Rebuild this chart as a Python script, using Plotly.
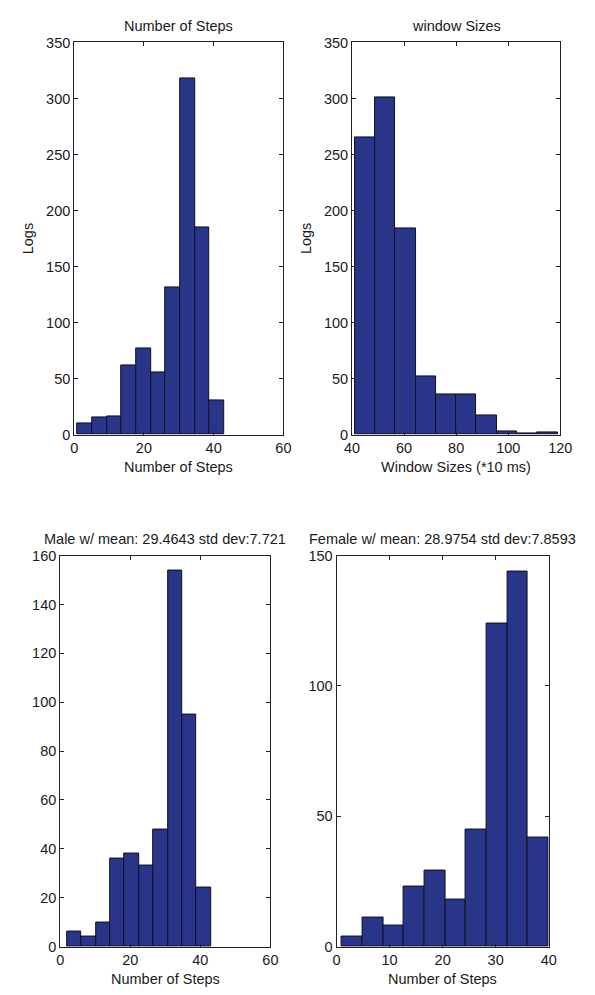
import plotly.graph_objects as go

# ---- data ----
steps_centers = [3.1, 7.3, 11.5, 15.7, 19.9, 24.1, 28.3, 32.5, 36.7, 40.9]
steps_counts = [10, 15, 16, 62, 77, 55, 131, 318, 185, 30]
steps_width = 4.2

win_centers = [44.9, 52.7, 60.5, 68.3, 76.1, 83.9, 91.7, 99.5, 107.3, 115.1]
win_counts = [265, 301, 184, 52, 36, 36, 17, 3, 1, 2]
win_width = 7.8

male_centers = [4.05, 8.15, 12.25, 16.35, 20.45, 24.55, 28.65, 32.75, 36.85, 40.95]
male_counts = [6, 4, 10, 36, 38, 33, 48, 154, 95, 24]
male_width = 4.1

female_centers = [2.95, 6.85, 10.75, 14.65, 18.55, 22.45, 26.35, 30.25, 34.15, 38.05]
female_counts = [4, 11, 8, 23, 29, 18, 45, 124, 144, 42]
female_width = 3.9

titles = ["Number of Steps", "window Sizes",
          "Male w/ mean: 29.4643 std dev:7.721",
          "Female w/ mean: 28.9754 std dev:7.8593"]
xlabels = ["Number of Steps", "Window Sizes (*10 ms)",
           "Number of Steps", "Number of Steps"]
ylabels = ["Logs", "Logs", "", ""]

W, H = 595, 995
BAR = "#283588"
FONT = "Liberation Sans, Arial, sans-serif"
TXT = "#1a1a1a"
FS = 14.5

# panel boxes in pixels: (left, right, top, bottom)
boxes = [(68.5, 285, 35, 433.5), (356, 571.5, 35, 433.5),
         (54, 271.5, 556.5, 954), (340, 559.5, 556.5, 954)]
xranges = [[0, 60], [40, 120], [0, 60], [0, 40]]
yranges = [[0, 350], [0, 350], [0, 160], [0, 150]]
xticks = [[0, 20, 40, 60], [40, 60, 80, 100, 120], [0, 20, 40, 60], [0, 10, 20, 30, 40]]
yticks = [list(range(0, 351, 50)), list(range(0, 351, 50)),
          list(range(0, 161, 20)), [0, 50, 100, 150]]

series = [(steps_centers, steps_counts, steps_width),
          (win_centers, win_counts, win_width),
          (male_centers, male_counts, male_width),
          (female_centers, female_counts, female_width)]

fig = go.Figure()
layout = dict(width=W, height=H, margin=dict(l=0, r=0, t=0, b=0),
              paper_bgcolor="white", plot_bgcolor="white",
              showlegend=False, bargap=0, font=dict(family=FONT, size=FS, color=TXT))
annotations = []

for i, ((xc, yc, w), (l, r, t, b)) in enumerate(zip(series, boxes)):
    n = i + 1
    xa = "x" if n == 1 else f"x{n}"
    ya = "y" if n == 1 else f"y{n}"
    fig.add_trace(go.Bar(x=xc, y=yc, width=[w] * len(xc), xaxis=xa, yaxis=ya,
                         marker=dict(color=BAR, line=dict(color="#101020", width=1))))
    common = dict(showgrid=False, zeroline=False, showline=True, linecolor="#222",
                  linewidth=1, mirror="ticks", ticks="inside", ticklen=4,
                  tickcolor="#222", tickfont=dict(family=FONT, size=FS, color=TXT))
    layout[f"xaxis{'' if n == 1 else n}"] = dict(
        domain=[l / W, r / W], range=xranges[i], tickvals=xticks[i],
        anchor=ya, **common)
    layout[f"yaxis{'' if n == 1 else n}"] = dict(
        domain=[1 - b / H, 1 - t / H], range=yranges[i], tickvals=yticks[i],
        anchor=xa, **common)
    cx = (l + r) / 2
    annotations.append(dict(text=titles[i], x=cx / W, y=1 - (t - 17) / H,
                            xref="paper", yref="paper", showarrow=False,
                            xanchor="center", yanchor="middle",
                            font=dict(family=FONT, size=FS, color=TXT)))
    annotations.append(dict(text=xlabels[i], x=cx / W, y=1 - (b + 33) / H,
                            xref="paper", yref="paper", showarrow=False,
                            xanchor="center", yanchor="middle",
                            font=dict(family=FONT, size=FS, color=TXT)))
    if ylabels[i]:
        annotations.append(dict(text=ylabels[i], x=(l - 47) / W, y=1 - ((t + b) / 2) / H,
                                xref="paper", yref="paper", showarrow=False, textangle=-90,
                                xanchor="center", yanchor="middle",
                                font=dict(family=FONT, size=FS, color=TXT)))

layout["annotations"] = annotations
fig.update_layout(**layout)
fig.write_html("out.html")
